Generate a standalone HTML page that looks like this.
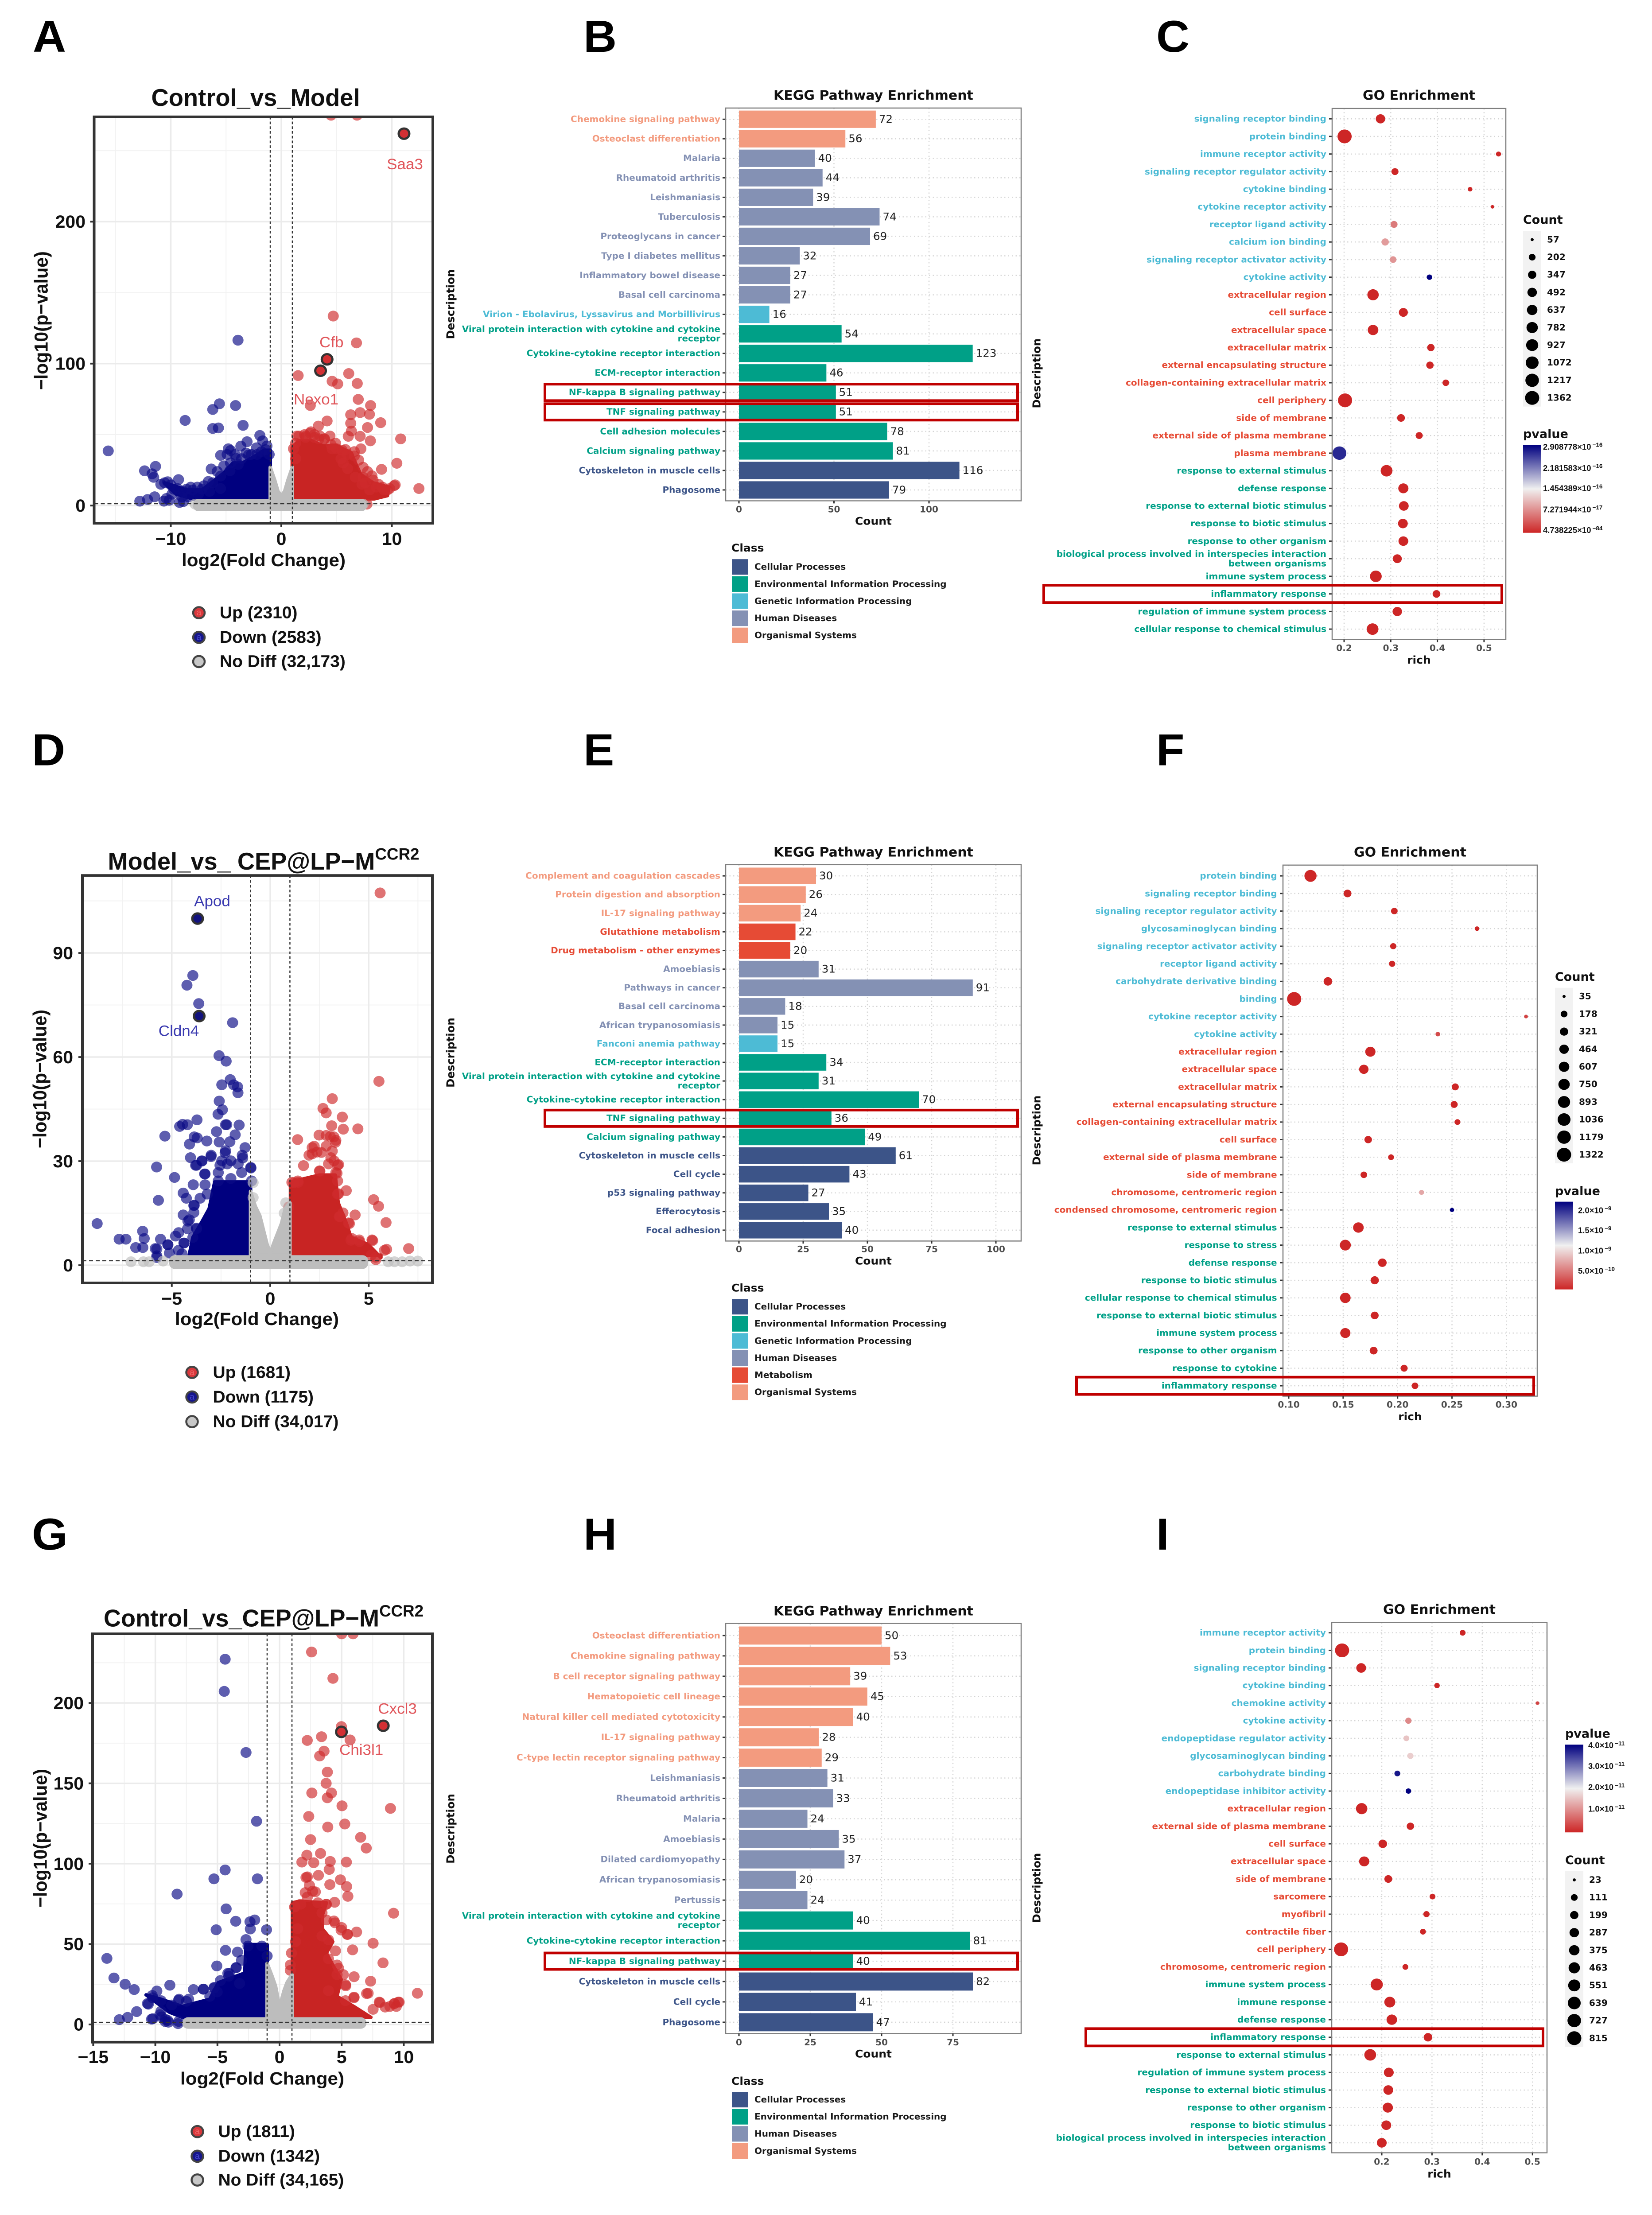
<!DOCTYPE html>
<html lang="en">
<head>
<meta charset="utf-8">
<title>Volcano, KEGG and GO enrichment panels</title>
<style>
html,body{margin:0;padding:0;background:#fff;width:100%;height:100%;overflow:hidden}
svg{display:block;position:absolute;left:0;top:0;width:100vw;height:100vh}
.letter{font-family:"Liberation Sans",sans-serif;font-weight:700;font-size:104px;fill:#000}
</style>
</head>
<body>
<svg id="fig" xmlns="http://www.w3.org/2000/svg" viewBox="0 0 3729 5126" preserveAspectRatio="none">
<rect x="0" y="0" width="3729" height="5126" fill="#fff"/>
<defs>
<linearGradient id="pvalueGradient" x1="0" y1="0" x2="0" y2="1">
<stop offset="0" stop-color="#00007f"/>
<stop offset="0.5" stop-color="#f0f0f0"/>
<stop offset="1" stop-color="#cd2626"/>
</linearGradient>
</defs>
<text class="letter" x="74" y="120">A</text>
<text class="letter" x="1317" y="120">B</text>
<text class="letter" x="2610" y="120">C</text>
<text class="letter" x="72" y="1771">D</text>
<text class="letter" x="1317" y="1771">E</text>
<text class="letter" x="2610" y="1771">F</text>
<text class="letter" x="72" y="3586">G</text>
<text class="letter" x="1317" y="3586">H</text>
<text class="letter" x="2610" y="3586">I</text>
</svg>
<script>
/* ---------- Panel A volcano values ---------- */
const aUpX=[4.5,6.85,1.52,4.7,6.8,6.1,4.6,5.1,6.87,6.96,8.08,2.62,6.28,7.13,7.97,4.14,8.99,6.28,7.8,6.34,3.35,2.68,6.06,7.13,8.06,10.8,10.45,9.07,12.45,10.3,9.15,7.4,8.2,7.2,6.6,5.8,4.9,1.4,2.1,3.5,4.4,1.1,1.3,2.2,3,3.9,4.6,5.4,6.7,7.6,8.6,9.6,5.5,6.3,7.75,1.3,1.6,2.2,2.6,3,3.4,3.9,4.5,5,5.5,6,6.6,7,7.4,7.8,8.3,8.8,9.3,9.8,10.2,5.6,6,7.3,8];
const aUpY=[275,275,91.6,133.5,114.6,93,87.6,85.7,86,74.8,70.5,70.5,64,65.5,64.3,59.6,58.4,58,55,52.5,56,52,48.8,48.8,45.6,47,29.8,25.5,12,14.6,13,27,21,40,38,39.5,44,49,50,49,49,40,33,48,50,47,40,33,20,16,13,11,1,1,1,44,49,49,51,48,47,47,43,40,39,36,35,32,20,24,18,15,11,12,14,30,26,15,11];
const aDownX=[-3.92,-5.6,-6.2,-4.14,-8.7,-6.2,-5.69,-3.46,-1.94,-3.1,-1.69,-4.79,-4.59,-3.66,-15.66,-2.25,-1.41,-5.49,-4.08,-2.96,-6.34,-11.38,-12.37,-11.69,-11.55,-9.3,-10.28,-10,-10.56,-5.49,-4.65,-8.59,-8.03,-7.18,-6.2,-12.8,-12.1,-11.46,-10.62,-10.14,-9.21,-8.87,-9.72,-4.9,-4.2,-3.6,-3.2,-2.7,-2.2,-1.8,-1.3,-1.1,-5.2,-4.6,-3.9,-5.8,-6.6,-7,-7.6,-8.2,-8.9,-9.4,-9.9,-10.4,-10.9,-8.4,-9,-7.5,-6.5,-5.5];
const aDownY=[116.5,71.7,67.7,70.5,60,54.3,54.7,56.5,49.4,45,45.6,40,38.8,41.9,38.5,40.7,39.4,35.4,33.2,35.7,25.8,27.6,24.5,22.4,19.9,18.3,16.8,14.6,16.1,20.8,24.5,11.5,10.9,11.5,16.1,3.1,4.3,6.2,3.1,3.7,2.2,2.8,11.5,36,36,33,37,36,36,38,42,36,28,30,29,24,17,14,13,13,10,12,8,5,15,6,6,8,10,12];
const aGeneNames=['Saa3','Cfb','Nexo1'];
const aGeneX=[11.1,4.14,3.55];
const aGeneY=[262,103,95];
const aUpMassX=[0.99,1.55,2.68,3.8,4.93,6.34,6.7,7.18,8.31,9.72,9.6,8.4];
const aUpMassTop=[41,45.6,46,42,42.5,37,30,22,16,13,7,4.7];
const aDownMassX=[-1,-1.55,-2.4,-3.52,-4.37,-5.2,-6.06,-7.18,-8.59,-9.72,-10.56,-9.5,-8];
const aDownMassTop=[39,39,34.8,30,30,23,17.7,11,11,14,16,8,4.7];
const aGrayVX=[-1,-0.6,-0.3,0,0.3,0.6,1];
const aGrayVTop=[27,18,10,7,10,18,27];
const aGrayBandX=[-8,7.75];
const aGrayBandY=[4.7,-4];
const aGrayX=[-7.8,7.4];
const aGrayY=[1,1];
const aLegend=['Up (2310)','Down (2583)','No Diff (32,173)'];

/* ---------- Panel D volcano values ---------- */
const dUpX=[5.58,5.52,3.15,2.68,2.84,3.66,3.12,3.71,4.45,2.48,2.84,3.23,1.39,3.31,2.13,2.84,1.97,2.37,3.08,3.47,1.69,2.52,3.39,3.86,3.47,5.25,5.5,4.31,5.88,4.02,3.55,7.03,5.91,5.2,4.53,4.1,1.42,1.1,5.36,5.13,2.13,2.6,3.15,3.24,3.42,2.96,2.5,3.33,3.33,3.05,2.23,3.42,1.4,1.21,3.42,3.51,3.97,3.69,4.15,4.52,5.17,5.8,5.35,0.94];
const dUpY=[107.3,53,48,45.2,43.9,42.7,40.2,39.2,39.3,37.5,37.4,37,36.2,35.4,33.9,34.3,31.7,32.6,31,29,28.7,27.1,26.5,21.5,20.6,18.9,17,14.5,12.3,12,14,4.8,4.6,7.1,6.8,7.2,23.9,23.9,1.6,2.9,32.1,32.5,32.9,30.1,28.8,29.2,27.2,26.7,36,37.1,34.3,24.3,24.3,23.8,20.5,14,12.2,15.1,7.7,7.3,7.3,4.3,2.3,16.8];
const dDownX=[-3.93,-4.23,-3.63,-1.91,-2.6,-2.24,-2.03,-2.46,-1.86,-1.66,-1.64,-2.59,-2.43,-2.65,-3.72,-4.6,-4.45,-4.21,-2.27,-2.21,-1.58,-2.73,-1.78,-5.35,-3.86,-3.71,-3.22,-2.59,-2.05,-4.1,-1.28,-4.05,-3.47,-3,-2.29,-1.42,-3.79,-5.77,-0.98,-3.31,-4.86,-3.91,-3.31,-4.42,-4.26,-5.68,-3.86,-4.42,-4.18,-8.79,-3.75,-6.48,-4.65,-4.81,-7.67,-7.33,-6.4,-5.57,-4.38,-5.2,-6.83,-6.47,-5.84,-5.76,-3.01,-2.27,-2.18,-2.55,-1.63,-0.99,-1.4,-2,-2.46,-3.47,-3.74,-3.33,-2.64,-2,-2.64,-0.95,-1.45,-3.2,-3.56,-3.88,-3.88,-4.11,-3.74,-4.2,-4.38,-3.93,-4.66,-5.2,-5.76,-5.12,-4.48,-5.76];
const dDownY=[83.5,80.7,75.4,69.9,60.4,58.8,53.5,52,52,51.4,49.7,47.3,44.8,43.5,41.9,40,40.6,40.5,40.5,40.5,40.4,38.5,37.6,37.2,37,36.7,35.8,35.5,35.6,34.9,33.9,31,30,31.7,32.4,31.7,28.8,28.3,28,26.3,25.3,23.2,23.2,20.8,19.3,18.7,17.3,14.5,12.7,12,10.7,9.8,9.4,8.4,7.5,7.5,7.7,7.5,6.4,5.9,5.1,5.1,4.8,2.2,31.3,33,29.2,28.8,29.2,28.2,30.9,30.1,30.1,30.1,28.8,26.3,26.7,25,24.3,24.3,26.7,20.5,19.3,17.2,15.2,13.1,10.5,10.5,6.4,8,4.3,5.9,4.7,3.5,3.3,2.7];
const dGeneNames=['Apod','Cldn4'];
const dGeneX=[-3.69,-3.61];
const dGeneY=[99.9,71.8];
const dUpMassX=[1.03,2.5,3.3,3.45,3.87,4.1,4.97,5.62];
const dUpMassTop=[24,26,26,18,12,8,6,2.2];
const dDownMassX=[-1,-2,-2.82,-3.1,-3.46,-3.93,-4.11];
const dDownMassTop=[24,24,24,16.3,12.6,8,3];
const dGrayVX=[-1,-0.76,-0.53,-0.17,0,0.17,0.57,0.76,1];
const dGrayVTop=[21.3,17,14.3,6.2,3.5,6.2,12,16.3,18];
const dGrayBandX=[-5.13,4.97];
const dGrayBandY=[2.9,-1.1];
const dGrayX=[-7.07,-6.44,-6.15,-5.44,5.99,6.31,6.7,7.1,7.49,-0.87,-0.87,0.79,0.71];
const dGrayY=[1,1,1,1.2,1,1,1,1.2,1.2,23.8,19.5,18,15];
const dLegend=['Up (1681)','Down (1175)','No Diff (34,017)'];

/* ---------- Panel G volcano values ---------- */
const gUpX=[5,5.92,2.58,4.3,4.98,3.38,5.68,2.23,3.58,3.23,3.85,3.75,4.18,2.6,3.85,5.03,8.93,5.25,2.35,3.88,6.53,2.5,6.98,3.3,2.2,4.08,5.38,1.8,2.75,4,3.13,2.13,4.9,4.05,5.4,5.5,2.88,4.43,3.75,9.18,1.25,4.38,5,5.45,6.2,7.53,5.88,4.5,8.33,4.75,6,7.33,5.33,7.13,11.1,6,8.08,9.25,9.63,8.5,2.24,2.41,2.66,2.24,2.07,3.09,3.77,1.21,1.71,3.42,3.77,4.46,4.96,5.48,3.94,3.42,1.46,3.94,4.63,4.63,5.13,5.31,3.94,7.01,5.99,5.31,8.03,9.23,9.56,9.4,8.88,7.53,0.96,0.87,0.87,1.29];
const gUpY=[243,243,231.7,215.3,185.3,179,177,176.7,170,167,157,150,144,144,141,136,134.4,124.7,129.4,122.8,116.4,115,109.7,106.4,105.3,101.4,101,101,100.6,96.4,92.8,91.4,90,87,85.8,79.7,82.5,76,74.7,69.2,73.3,64.4,60.3,56,57.5,50.5,46.4,45.8,38.3,35,29.7,26.9,24,19.4,19.4,17,13.6,13,13.9,10.8,91.8,86.5,82.9,79.3,82,75.7,74.8,73,74.8,69.4,65,63.2,58.7,56,52.6,55,59.6,40.8,37,31,31,24.7,21,19.2,16.6,14.8,13.9,13,13.9,11.2,11.2,9.4,44.4,37,33.6,51.5];
const gDownX=[-4.38,-4.45,-2.7,-1.85,-4.38,-5.28,-1.78,-8.25,-4.3,-3.53,-2,-2.38,-5.1,-2.35,-1.05,-2.7,-4.35,-3.38,-13.9,-5.05,-4.05,-3.5,-13.33,-12.43,-11.7,-8.83,-9.88,-10.25,-6.93,-6.13,-5.25,-7.5,-8.13,-10.63,-11.5,-12.9,-12.23,-10.3,-9.63,-9.5,-9,-8.13,-1.43,-2.54,-1,-3.06,-3.49,-4.16,-4.76,-4.08,-3.22,-5.27,-6.13,-5.02,-5.61,-7.32,-8.09,-10.22,-9.54,-8.68,-10.56,-9.54,-10.2,-9.2,-9.2,-8.94,-8.17];
const gDownY=[227.2,207.2,169.2,126.4,96.1,90.6,90.6,81.1,71.9,64.2,65,63.9,58.9,59.4,58.9,52.8,46.1,45,41.1,36.4,31.7,35.3,28.9,25,21.7,24.4,20.8,18,21.7,21.9,22.8,14.4,15,13,8,3,4.4,3.3,6.1,4.7,2.5,1.9,48.8,48.8,42.6,39.9,35.4,31.8,27.3,30,25.5,23,22,20.2,17.5,15.7,15.7,16.6,14.8,12.1,12.6,8.2,3.6,1.8,3.2,1.4,0.5];
const gGeneNames=['Cxcl3','Chi3l1'];
const gGeneX=[8.35,4.98];
const gGeneY=[185.8,182];
const gUpMassX=[1.04,1.55,3.77,3.43,3.43,4.28,3.77,4.28,4.96,4.62,6.16,7.35];
const gUpMassTop=[75.7,76.6,75.7,67.6,59.6,51.5,44.4,37,28,17.5,10.3,4.4];
const gDownMassX=[-1,-2.7,-2.8,-4.93,-5.61,-7.83,-9.54,-10.74,-8.86,-7.83];
const gDownMassTop=[49.7,49.7,32,26,15.7,11.2,15.7,18.4,7.6,4.5];
const gGrayVX=[-1,-0.6,-0.32,0,0.36,0.6,1];
const gGrayVTop=[38,30,23.8,10.5,21,26,31];
const gGrayBandX=[-7.83,7];
const gGrayBandY=[4.5,-2.7];
const gGrayX=[];
const gGrayY=[];
const gLegend=['Up (1811)','Down (1342)','No Diff (34,165)'];

/* ---------- KEGG values ---------- */
const viralLabel='Viral protein interaction with cytokine and cytokine|receptor';
const bLabels=['Chemokine signaling pathway','Osteoclast differentiation','Malaria','Rheumatoid arthritis','Leishmaniasis','Tuberculosis','Proteoglycans in cancer','Type I diabetes mellitus','Inflammatory bowel disease','Basal cell carcinoma','Virion - Ebolavirus, Lyssavirus and Morbillivirus',viralLabel,'Cytokine-cytokine receptor interaction','ECM-receptor interaction','NF-kappa B signaling pathway','TNF signaling pathway','Cell adhesion molecules','Calcium signaling pathway','Cytoskeleton in muscle cells','Phagosome'];
const bCounts=[72,56,40,44,39,74,69,32,27,27,16,54,123,46,51,51,78,81,116,79];
const bClasses=['O','O','H','H','H','H','H','H','H','H','G','E','E','E','E','E','E','E','C','C'];
const bTicks=[0,50,100];
const eLabels=['Complement and coagulation cascades','Protein digestion and absorption','IL-17 signaling pathway','Glutathione metabolism','Drug metabolism - other enzymes','Amoebiasis','Pathways in cancer','Basal cell carcinoma','African trypanosomiasis','Fanconi anemia pathway','ECM-receptor interaction',viralLabel,'Cytokine-cytokine receptor interaction','TNF signaling pathway','Calcium signaling pathway','Cytoskeleton in muscle cells','Cell cycle','p53 signaling pathway','Efferocytosis','Focal adhesion'];
const eCounts=[30,26,24,22,20,31,91,18,15,15,34,31,70,36,49,61,43,27,35,40];
const eClasses=['O','O','O','M','M','H','H','H','H','G','E','E','E','E','E','C','C','C','C','C'];
const eTicks=[0,25,50,75,100];
const hLabels=['Osteoclast differentiation','Chemokine signaling pathway','B cell receptor signaling pathway','Hematopoietic cell lineage','Natural killer cell mediated cytotoxicity','IL-17 signaling pathway','C-type lectin receptor signaling pathway','Leishmaniasis','Rheumatoid arthritis','Malaria','Amoebiasis','Dilated cardiomyopathy','African trypanosomiasis','Pertussis',viralLabel,'Cytokine-cytokine receptor interaction','NF-kappa B signaling pathway','Cytoskeleton in muscle cells','Cell cycle','Phagosome'];
const hCounts=[50,53,39,45,40,28,29,31,33,24,35,37,20,24,40,81,40,82,41,47];
const hClasses=['O','O','O','O','O','O','O','H','H','H','H','H','H','H','E','E','E','C','C','C'];
const hTicks=[0,25,50,75];

/* ---------- GO values ---------- */
const bioLabel='biological process involved in interspecies interaction|between organisms';
const cLabels=['signaling receptor binding','protein binding','immune receptor activity','signaling receptor regulator activity','cytokine binding','cytokine receptor activity','receptor ligand activity','calcium ion binding','signaling receptor activator activity','cytokine activity','extracellular region','cell surface','extracellular space','extracellular matrix','external encapsulating structure','collagen-containing extracellular matrix','cell periphery','side of membrane','external side of plasma membrane','plasma membrane','response to external stimulus','defense response','response to external biotic stimulus','response to biotic stimulus','response to other organism',bioLabel,'immune system process','inflammatory response','regulation of immune system process','cellular response to chemical stimulus'];
const cRich=[0.278,0.201,0.531,0.309,0.470,0.518,0.307,0.288,0.305,0.383,0.262,0.327,0.262,0.386,0.384,0.418,0.202,0.322,0.361,0.190,0.291,0.327,0.328,0.326,0.327,0.314,0.268,0.398,0.314,0.261];
const cCount=[483,1362,99,224,83,60,224,250,200,120,791,431,657,255,255,190,1362,290,224,1270,862,590,530,530,530,431,862,290,483,862];
const cP=[0,0,0,0,0,0,0.6,0.85,0.8,2.9,0,0,0,0,0,0,0,0,0,2.65,0,0,0,0,0,0,0,0,0,0];
const cTicks=[0.2,0.3,0.4,0.5];
const cCountKeys=[57,202,347,492,637,782,927,1072,1217,1362];
const cBarMain=['2.908778×10','2.181583×10','1.454389×10','7.271944×10','4.738225×10'];
const cBarExp=['−16','−16','−16','−17','−84'];

const fLabels=['protein binding','signaling receptor binding','signaling receptor regulator activity','glycosaminoglycan binding','signaling receptor activator activity','receptor ligand activity','carbohydrate derivative binding','binding','cytokine receptor activity','cytokine activity','extracellular region','extracellular space','extracellular matrix','external encapsulating structure','collagen-containing extracellular matrix','cell surface','external side of plasma membrane','side of membrane','chromosome, centromeric region','condensed chromosome, centromeric region','response to external stimulus','response to stress','defense response','response to biotic stimulus','cellular response to chemical stimulus','response to external biotic stimulus','immune system process','response to other organism','response to cytokine','inflammatory response'];
const fRich=[0.120,0.154,0.197,0.273,0.196,0.195,0.136,0.105,0.318,0.237,0.175,0.169,0.253,0.252,0.255,0.173,0.194,0.169,0.222,0.250,0.164,0.152,0.186,0.179,0.152,0.179,0.152,0.178,0.206,0.216];
const fCount=[900,272,168,61,140,140,357,1322,40,61,567,456,200,200,116,241,116,168,76,50,627,691,357,318,627,272,567,272,200,168];
const fP=[0,0,0,0,0,0,0,0,0.15,0.2,0,0,0,0,0,0,0,0,0.7,2.2,0,0,0,0,0,0,0,0,0,0];
const fTicks=[0.10,0.15,0.20,0.25,0.30];
const fCountKeys=[35,178,321,464,607,750,893,1036,1179,1322];
const fBarMain=['2.0×10','1.5×10','1.0×10','5.0×10'];
const fBarExp=['−9','−9','−9','−10'];

const iLabels=['immune receptor activity','protein binding','signaling receptor binding','cytokine binding','chemokine activity','cytokine activity','endopeptidase regulator activity','glycosaminoglycan binding','carbohydrate binding','endopeptidase inhibitor activity','extracellular region','external side of plasma membrane','cell surface','extracellular space','side of membrane','sarcomere','myofibril','contractile fiber','cell periphery','chromosome, centromeric region','immune system process','immune response','defense response','inflammatory response','response to external stimulus','regulation of immune system process','response to external biotic stimulus','response to other organism','response to biotic stimulus',bioLabel];
const iRich=[0.361,0.121,0.159,0.310,0.510,0.253,0.249,0.257,0.231,0.253,0.160,0.257,0.202,0.165,0.213,0.301,0.289,0.282,0.119,0.247,0.190,0.216,0.220,0.292,0.177,0.214,0.213,0.212,0.209,0.200];
const iCount=[72,815,315,59,25,88,72,88,72,59,468,145,221,350,169,72,88,72,815,72,558,427,387,221,512,315,315,350,315,315];
const iP=[0,0,0,0,0.3,1,1.6,1.7,3.9,4.1,0,0,0,0,0,0,0,0,0,0,0,0,0,0,0,0,0,0,0,0];
const iTicks=[0.2,0.3,0.4,0.5];
const iCountKeys=[23,111,199,287,375,463,551,639,727,815];
const iBarMain=['4.0×10','3.0×10','2.0×10','1.0×10'];
const iBarExp=['−11','−11','−11','−11'];

/* ---------- Shared palettes ---------- */
const classNames={C:'Cellular Processes',E:'Environmental Information Processing',G:'Genetic Information Processing',H:'Human Diseases',M:'Metabolism',O:'Organismal Systems'};
const classColors={C:'#3C5488',E:'#00A087',G:'#4DBBD5',H:'#8491B4',M:'#E64B35',O:'#F39B7F'};
const goColors={M:'#4DBBD5',C:'#E64B35',B:'#00A087'};
const goGroups='MMMMMMMMMMCCCCCCCCCCBBBBBBBBBB';

/* ---------- Helpers ---------- */
const root=document.getElementById('fig');
const NS='http://www.w3.org/2000/svg';
const SANS='"Liberation Sans",sans-serif';
const DEJA='"DejaVu Sans",sans-serif';
function node(parent,tag,attrs){
  const n=document.createElementNS(NS,tag);
  for(const k in attrs){n.setAttribute(k,attrs[k]);}
  parent.appendChild(n);
  return n;
}
function label(parent,x,y,str,o){
  const a={x:x,y:y,'font-family':o.family||DEJA,'font-size':o.size,'font-weight':o.weight||700,fill:o.fill||'#000','text-anchor':o.anchor||'start','dominant-baseline':'central'};
  if(o.len){a.textLength=o.len;a.lengthAdjust='spacingAndGlyphs';}
  if(o.rotate){a.transform='rotate('+o.rotate+' '+x+' '+y+')';}
  const t=node(parent,'text',a);
  t.textContent=str;
  return t;
}
function linear(origin,k){return v=>origin+v*k;}
function mix(a,b,t){
  const p=s=>[parseInt(s.slice(1,3),16),parseInt(s.slice(3,5),16),parseInt(s.slice(5,7),16)];
  const A=p(a),B=p(b);
  return 'rgb('+A.map((c,i)=>Math.round(c+(B[i]-c)*t)).join(',')+')';
}
function pColor(t){return t<0.5?mix('#cd2626','#f0f0f0',t*2):mix('#f0f0f0','#00007f',(t-0.5)*2);}

/* ---------- Volcano ---------- */
let clipCounter=0;
function drawVolcano(c){
  const g=node(root,'g',{});
  
  
  const sx=linear(c.x0,c.kx),sy=linear(c.y0,-c.ky);
  const [L,T,R,B]=c.box;
  const cid='clip'+(clipCounter++);
  const cp=node(root,'clipPath',{id:cid});
  node(cp,'rect',{x:L,y:T,width:R-L,height:B-T});
  for(const v of c.xMinor){const l=node(g,'line',{x1:sx(v),x2:sx(v),y1:T,y2:B,stroke:'#f2f2f2','stroke-width':2});
    
    }
  for(const v of c.yMinor){const l=node(g,'line',{y1:sy(v),y2:sy(v),x1:L,x2:R,stroke:'#f2f2f2','stroke-width':2});
    
    }
  for(const v of c.xTicks){const l=node(g,'line',{x1:sx(v),x2:sx(v),y1:T,y2:B,stroke:'#ebebeb','stroke-width':3.5});
    
    }
  for(const v of c.yTicks){const l=node(g,'line',{y1:sy(v),y2:sy(v),x1:L,x2:R,stroke:'#ebebeb','stroke-width':3.5});
    
    }
  const plot=node(g,'g',{'clip-path':'url(#'+cid+')'});
  
  
  const mass=(xs,tops,base,col)=>{
    const pts=xs.map((x,i)=>sx(x)+','+sy(tops[i]));
    pts.push(sx(xs[xs.length-1])+','+sy(base));
    pts.push(sx(xs[0])+','+sy(base));
    return node(plot,'polygon',{points:pts.join(' '),fill:col,stroke:col,'stroke-width':8,'stroke-linejoin':'round'});
  };
  const dots=(xs,ys,col,nm)=>{
    xs.forEach((x,i)=>{
      const d=node(plot,'circle',{cx:sx(x),cy:sy(ys[i]),r:12.5,fill:col,'fill-opacity':0.66});
      
      
    });
  };
  const um=mass(c.upMassX,c.upMassTop,c.base,'#c82423');
  
  
  const dm=mass(c.downMassX,c.downMassTop,c.base,'#00007f');
  
  
  dots(c.upX,c.upY,'#cf2a2c','up-gene-point');
  dots(c.downX,c.downY,'#0a0a86','down-gene-point');
  const gv=mass(c.grayVX,c.grayVTop,c.bandY[0],'#bdbdbd');
  
  
  const band=node(plot,'rect',{x:sx(c.bandX[0]),y:sy(c.bandY[0]),width:sx(c.bandX[1])-sx(c.bandX[0]),height:sy(c.bandY[1])-sy(c.bandY[0]),rx:13,fill:'#bdbdbd'});
  
  
  dots(c.grayX,c.grayY,'#bdbdbd','no-diff-point');
  for(const v of [-1,1]){const l=node(g,'line',{x1:sx(v),x2:sx(v),y1:T,y2:B,stroke:'#333','stroke-width':2.5,'stroke-dasharray':'6 5'});
    
    }
  const pl=node(g,'line',{x1:L,x2:R,y1:sy(1.3),y2:sy(1.3),stroke:'#333','stroke-width':2.5,'stroke-dasharray':'9 6'});
  
  
  c.geneNames.forEach((name,i)=>{
    const px=sx(c.geneX[i]),py=sy(c.geneY[i]);
    const d=node(g,'circle',{cx:px,cy:py,r:12,fill:c.geneFill,stroke:'#333','stroke-width':5});
    
    
    const t=label(g,px+c.geneOffsets[i][0],py+c.geneOffsets[i][1],name,{family:SANS,size:35,weight:400,fill:c.geneText,anchor:'middle'});
    
    
  });
  const fr=node(g,'rect',{x:L,y:T,width:R-L,height:B-T,fill:'none',stroke:'#333','stroke-width':6});
  
  
  for(const v of c.xTicks){
    const l=node(g,'line',{x1:sx(v),x2:sx(v),y1:B,y2:B+9,stroke:'#333','stroke-width':4});
    
    
    const t=label(g,sx(v),c.xTickY,String(v).replace('-','−'),{family:SANS,size:41,anchor:'middle',fill:'#111'});
    
    
  }
  for(const v of c.yTicks){
    const l=node(g,'line',{x1:L-9,x2:L,y1:sy(v),y2:sy(v),stroke:'#333','stroke-width':4});
    
    
    const t=label(g,c.yTickX,sy(v),String(v),{family:SANS,size:41,anchor:'end',fill:'#111'});
    
    
  }
  const xt=label(g,c.xTitle[0],c.xTitle[1],'log2(Fold Change)',{family:SANS,size:41,anchor:'middle',fill:'#111',len:370});
  
  
  const yt=label(g,c.yTitle[0],c.yTitle[1],'−log10(p−value)',{family:SANS,size:43,anchor:'middle',fill:'#111',len:321,rotate:-90});
  
  
  const tt=label(g,c.title[0],c.title[1],c.titleText,{family:SANS,size:56,anchor:'middle',fill:'#111',len:c.titleLen});
  
  
  if(c.titleSup){
    const s=node(tt,'tspan',{dy:-17,'font-size':38});
    s.textContent=c.titleSup;
  }
  const legendFill=['#d9383c','#16168c','#c8c8c8'];
  const legendGlyph=['#f06a6a','#4a4ad0','#c8c8c8'];
  c.legend.forEach((txt,i)=>{
    const d=node(g,'circle',{cx:c.legendX,cy:c.legendY[i],r:13,fill:legendFill[i],stroke:'#444','stroke-width':4.5});
    
    
    const gl=label(g,c.legendX,c.legendY[i],'a',{family:SANS,size:20,weight:400,fill:legendGlyph[i],anchor:'middle'});
    
    
    const t=label(g,c.legendX+47,c.legendY[i],txt,{family:SANS,size:39,fill:'#111'});
    
    
  });
}

/* ---------- KEGG bars ---------- */
function drawKegg(c){
  const g=node(root,'g',{});
  
  
  const [L,T,R,B]=c.box;
  const sx=linear(c.x0,c.k),row=i=>c.first+i*c.step;
  for(const v of c.ticks){
    const l=node(g,'line',{x1:sx(v),x2:sx(v),y1:T,y2:B,stroke:'#d4d4d4','stroke-width':2.5,'stroke-dasharray':'2.5 6'});
    
    
  }
  c.labels.forEach((txt,i)=>{
    const y=row(i);
    const l=node(g,'line',{x1:L,x2:R,y1:y,y2:y,stroke:'#d4d4d4','stroke-width':2.5,'stroke-dasharray':'2.5 6'});
    
    
    const m=node(g,'line',{x1:L-7,x2:L,y1:y,y2:y,stroke:'#333','stroke-width':3});
    
    
    const b=node(g,'rect',{x:sx(0),y:y-c.step*0.445,width:sx(c.counts[i])-sx(0),height:c.step*0.89,fill:classColors[c.classes[i]]});
    
    
    const vt=label(g,sx(c.counts[i])+7,y,String(c.counts[i]),{size:24.5,weight:400,fill:'#222'});
    
    
    const parts=txt.split('|');
    parts.forEach((p,j)=>{
      const off=parts.length>1?(j===0?-10.7:10.7):0;
      const t=label(g,c.labelX,y+off,p,{size:20,anchor:'end',fill:classColors[c.classes[i]]});
      
      
    });
  });
  const fr=node(g,'rect',{x:L,y:T,width:R-L,height:B-T,fill:'none',stroke:'#7f7f7f','stroke-width':2.5});
  
  
  for(const v of c.ticks){
    const m=node(g,'line',{x1:sx(v),x2:sx(v),y1:B,y2:B+6,stroke:'#333','stroke-width':3});
    
    
    const t=label(g,sx(v),c.tickY,String(v),{size:20,anchor:'middle',fill:'#4d4d4d'});
    
    
  }
  const cx=(L+R)/2+0;
  const ti=label(g,cx,c.titleY,'KEGG Pathway Enrichment',{size:30,anchor:'middle',fill:'#111'});
  
  
  const xt=label(g,cx,c.countY,'Count',{size:25,anchor:'middle',fill:'#111'});
  
  
  const yt=label(g,1017,c.descY,'Description',{size:25,anchor:'middle',fill:'#111',rotate:-90});
  
  
  for(const r of c.highlightRows){
    const h=node(g,'rect',{x:1230,y:row(r)-19,width:1067,height:38,fill:'none',stroke:'#c00000','stroke-width':6});
    
    
  }
  const lt=label(g,1651,c.legendTitleY,'Class',{size:25,fill:'#111'});
  
  
  c.legendClasses.forEach((k,i)=>{
    const y=c.legendFirst+i*39.6;
    const s=node(g,'rect',{x:1652,y:y-18,width:37,height:36,fill:classColors[k]});
    
    
    const t=label(g,1703,y,classNames[k],{size:20,fill:'#1a1a1a'});
    
    
  });
}

/* ---------- GO dots ---------- */
function drawGo(c){
  const g=node(root,'g',{});
  
  
  const [L,T,R,B]=c.box;
  const sx=v=>c.x0+(v-c.xBase)*c.k,row=i=>c.first+i*c.step;
  const minC=c.countKeys[0],maxC=c.countKeys[c.countKeys.length-1];
  const rad=v=>(7+25*Math.sqrt(Math.max(0,(v-minC)/(maxC-minC))))/2;
  for(const v of c.ticks){
    const l=node(g,'line',{x1:sx(v),x2:sx(v),y1:T,y2:B,stroke:'#d4d4d4','stroke-width':2.5,'stroke-dasharray':'2.5 6'});
    
    
  }
  c.labels.forEach((txt,i)=>{
    const y=row(i);
    const l=node(g,'line',{x1:L,x2:R,y1:y,y2:y,stroke:'#d4d4d4','stroke-width':2.5,'stroke-dasharray':'2.5 6'});
    
    
    const m=node(g,'line',{x1:L-7,x2:L,y1:y,y2:y,stroke:'#333','stroke-width':3});
    
    
    const parts=txt.split('|');
    parts.forEach((p,j)=>{
      const off=parts.length>1?(j===0?-11:11):0;
      const t=label(g,c.labelX,y+off,p,{size:20,anchor:'end',fill:goColors[goGroups[i]]});
      
      
    });
    const d=node(g,'circle',{cx:sx(c.rich[i]),cy:y,r:rad(c.count[i]),fill:pColor(c.p[i]/c.pMax)});
    
    
  });
  const fr=node(g,'rect',{x:L,y:T,width:R-L,height:B-T,fill:'none',stroke:'#7f7f7f','stroke-width':2.5});
  
  
  for(const v of c.ticks){
    const m=node(g,'line',{x1:sx(v),x2:sx(v),y1:B,y2:B+6,stroke:'#333','stroke-width':3});
    
    
    const t=label(g,sx(v),c.tickY,v.toFixed(c.tickDigits),{size:20,anchor:'middle',fill:'#4d4d4d'});
    
    
  }
  const cx=(L+R)/2;
  const ti=label(g,cx,c.titleY,'GO Enrichment',{size:30,anchor:'middle',fill:'#111'});
  
  
  const xt=label(g,cx,c.richY,'rich',{size:25,anchor:'middle',fill:'#111'});
  
  
  const yt=label(g,2340,c.descY,'Description',{size:25,anchor:'middle',fill:'#111',rotate:-90});
  
  
  const h=node(g,'rect',{x:c.hl[0],y:row(c.hl[2])-20,width:c.hl[1]-c.hl[0],height:40,fill:'none',stroke:'#c00000','stroke-width':6});
  
  
  /* count legend */
  const ct=label(g,c.keyX,c.countTitleY,'Count',{size:27,fill:'#111'});
  
  
  const n=c.countKeys.length;
  const bg=node(g,'rect',{x:c.keyX,y:c.countFirst-20,width:41,height:(n-1)*40.7+40,fill:'#f2f2f2'});
  
  
  c.countKeys.forEach((v,i)=>{
    const y=c.countFirst+i*40.7;
    const d=node(g,'circle',{cx:c.keyX+20.5,cy:y,r:rad(v),fill:'#000'});
    
    
    const t=label(g,c.keyX+54,y,String(v),{size:20,fill:'#111'});
    
    
  });
  /* colour bar */
  const pt=label(g,c.keyX,c.pTitleY,'pvalue',{size:27,fill:'#111'});
  
  
  const bar=node(g,'rect',{x:c.keyX,y:c.barTop,width:41,height:c.barH,fill:'url(#pvalueGradient)'});
  
  
  c.barMain.forEach((m,i)=>{
    const t=label(g,c.keyX+c.barLabelDx,c.barYs[i],m,{family:SANS,size:18.5,fill:'#111'});
    
    
    const s=node(t,'tspan',{dy:-5,dx:3,'font-size':13.5});
    s.textContent=c.barExp[i];
  });
}

/* ---------- Render all panels ---------- */
drawVolcano({name:'panel-a-volcano',box:[212.5,270.4,977,1211],x0:635,kx:24.95,y0:1170,ky:3.285,
  xTicks:[-10,0,10],yTicks:[0,100,200],xMinor:[-15,-5,5],yMinor:[50,150,250],
  upX:aUpX,upY:aUpY,downX:aDownX,downY:aDownY,upMassX:aUpMassX,upMassTop:aUpMassTop,downMassX:aDownMassX,downMassTop:aDownMassTop,
  base:4.7,grayVX:aGrayVX,grayVTop:aGrayVTop,bandX:aGrayBandX,bandY:aGrayBandY,grayX:aGrayX,grayY:aGrayY,
  geneNames:aGeneNames,geneX:aGeneX,geneY:aGeneY,geneOffsets:[[2,71],[10,-39],[-10,67]],geneFill:'#d32f33',geneText:'#e0555a',
  xTickY:1247,yTickX:193,xTitle:[595,1296],yTitle:[93,742],title:[577,226],titleText:'Control_vs_Model',titleLen:471,
  legend:aLegend,legendX:449,legendY:[1418,1475,1531]});
drawVolcano({name:'panel-d-volcano',box:[186,2026,976,2969],x0:610,kx:44.45,y0:2928,ky:8.03,
  xTicks:[-5,0,5],yTicks:[0,30,60,90],xMinor:[-7.5,-2.5,2.5,7.5],yMinor:[15,45,75,105],
  upX:dUpX,upY:dUpY,downX:dDownX,downY:dDownY,upMassX:dUpMassX,upMassTop:dUpMassTop,downMassX:dDownMassX,downMassTop:dDownMassTop,
  base:2.9,grayVX:dGrayVX,grayVTop:dGrayVTop,bandX:dGrayBandX,bandY:dGrayBandY,grayX:dGrayX,grayY:dGrayY,
  geneNames:dGeneNames,geneX:dGeneX,geneY:dGeneY,geneOffsets:[[33,-40],[-46,35]],geneFill:'#12127f',geneText:'#3a3ab0',
  xTickY:3005,yTickX:165,xTitle:[580,3052],yTitle:[90,2497],title:[595,1993],titleText:'Model_vs_ CEP@LP−M',titleSup:'CCR2',titleLen:703,
  legend:dLegend,legendX:433.5,legendY:[3176,3233,3290]});
drawVolcano({name:'panel-g-volcano',box:[209,3781,976,4726],x0:631,kx:28.04,y0:4685,ky:3.72,
  xTicks:[-15,-10,-5,0,5,10],yTicks:[0,50,100,150,200],xMinor:[-12.5,-7.5,-2.5,2.5,7.5],yMinor:[25,75,125,175,225],
  upX:gUpX,upY:gUpY,downX:gDownX,downY:gDownY,upMassX:gUpMassX,upMassTop:gUpMassTop,downMassX:gDownMassX,downMassTop:gDownMassTop,
  base:4.5,grayVX:gGrayVX,grayVTop:gGrayVTop,bandX:gGrayBandX,bandY:gGrayBandY,grayX:gGrayX,grayY:gGrayY,
  geneNames:gGeneNames,geneX:gGeneX,geneY:gGeneY,geneOffsets:[[32,-39],[45,42]],geneFill:'#d32f33',geneText:'#e0555a',
  xTickY:4760,yTickX:189,xTitle:[592,4810],yTitle:[91,4254],title:[595,3745],titleText:'Control_vs_CEP@LP−M',titleSup:'CCR2',titleLen:722,
  legend:gLegend,legendX:445.5,legendY:[4933,4990,5045]});

drawKegg({name:'panel-b-kegg',box:[1638,250,2305,1159],x0:1668,k:4.29,first:276,step:45.15,labels:bLabels,counts:bCounts,classes:bClasses,ticks:bTicks,labelX:1626,tickY:1179,countY:1205.5,titleY:220,descY:704,highlightRows:[14,15],legendTitleY:1268,legendFirst:1312,legendClasses:['C','E','G','H','O']});
drawKegg({name:'panel-e-kegg',box:[1638,2001,2305,2872],x0:1668,k:5.8,first:2027,step:43.15,labels:eLabels,counts:eCounts,classes:eClasses,ticks:eTicks,labelX:1626,tickY:2891,countY:2918,titleY:1971.5,descY:2436,highlightRows:[13],legendTitleY:2980.5,legendFirst:3024,legendClasses:['C','E','G','H','M','O']});
drawKegg({name:'panel-h-kegg',box:[1638,3757,2305,4706],x0:1668,k:6.44,first:3785,step:47.1,labels:hLabels,counts:hCounts,classes:hClasses,ticks:hTicks,labelX:1626,tickY:4727,countY:4753,titleY:3728,descY:4232,highlightRows:[16],legendTitleY:4816,legendFirst:4859,legendClasses:['C','E','H','O']});

drawGo({name:'panel-c-go',box:[3007,251,3399,1480],x0:3034,xBase:0.2,k:1053,first:275,step:40.72,labels:cLabels,rich:cRich,count:cCount,p:cP,pMax:2.9,ticks:cTicks,tickDigits:1,labelX:2994,tickY:1500,richY:1527,titleY:220,descY:864,hl:[2356,3390,27],keyX:3438,countTitleY:509,countFirst:554.5,countKeys:cCountKeys,pTitleY:1005,barTop:1030,barH:203,barMain:cBarMain,barExp:cBarExp,barLabelDx:45,barYs:[1034,1083,1130,1179,1227]});
drawGo({name:'panel-f-go',box:[2896,2002,3470,3231],x0:2909,xBase:0.1,k:2457,first:2027,step:40.69,labels:fLabels,rich:fRich,count:fCount,p:fP,pMax:2.2,ticks:fTicks,tickDigits:2,labelX:2882.6,tickY:3251,richY:3278,titleY:1971.5,descY:2616,hl:[2430,3462,29],keyX:3510,countTitleY:2261,countFirst:2306,countKeys:fCountKeys,pTitleY:2757,barTop:2781,barH:203,barMain:fBarMain,barExp:fBarExp,barLabelDx:52,barYs:[2801,2847,2894,2941]});
drawGo({name:'panel-i-go',box:[3006,3754.5,3492,4982],x0:3119,xBase:0.2,k:1134,first:3778.6,step:40.7,labels:iLabels,rich:iRich,count:iCount,p:iP,pMax:4.1,ticks:iTicks,tickDigits:1,labelX:2993,tickY:5003,richY:5030.6,titleY:3724,descY:4369,hl:[2451,3483,23],keyX:3533,countTitleY:4305.5,countFirst:4350.5,countKeys:iCountKeys,pTitleY:4012.6,barTop:4037.5,barH:203,barMain:iBarMain,barExp:iBarExp,barLabelDx:52,barYs:[4039,4087,4136,4186]});
</script>
</body>
</html>
